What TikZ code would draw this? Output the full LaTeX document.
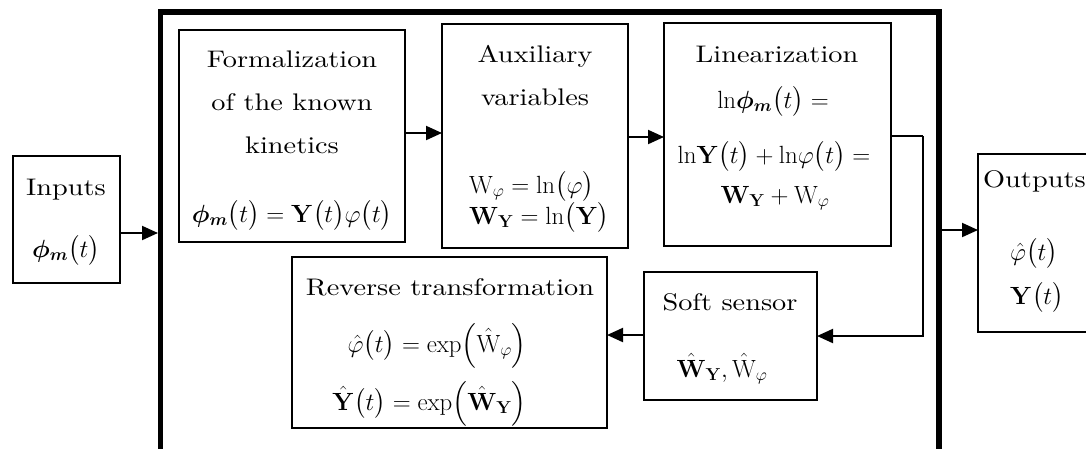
\documentclass[tikz,border=0pt]{standalone}
\usepackage{amsmath}
\usepackage{bm}
\usepackage[no-math]{fontspec}
\setmainfont{lmroman10-regular.otf}[FakeStretch=1.18]
\usetikzlibrary{arrows.meta}
\begin{document}
\begin{tikzpicture}[x=1pt,y=-1pt,
  blk/.style={draw,line width=2pt,rectangle,inner sep=0pt,outer sep=0pt},
  txt/.style={anchor=base,inner sep=0pt,font=\fontsize{24}{29}\selectfont},
  mth/.style={anchor=base,inner sep=0pt,font=\fontsize{25}{30}\selectfont},
  arr/.style={line width=2pt,-{Triangle[length=16pt,width=14pt]}},
  lnk/.style={line width=2pt}]
\useasboundingbox (0,0) rectangle (1086,448);
% outer frame (open at the bottom edge of the picture)
\draw[line width=5.5pt] (160.5,460) -- (160.5,12) -- (939,12) -- (939,460);
\coordinate (fl) at (158,233);
\coordinate (fr) at (941.5,230);
\coordinate (bend) at (923,136);
% boxes
\node[blk,minimum width=107pt,minimum height=127pt] (inputs) at (66.5,219.5) {};
\node[blk,minimum width=226pt,minimum height=212pt] (form) at (292,136) {};
\node[blk,minimum width=186pt,minimum height=224pt] (aux) at (535,136) {};
\node[blk,minimum width=227pt,minimum height=223pt] (lin) at (777.5,134.5) {};
\node[blk,minimum width=173pt,minimum height=128pt] (soft) at (730.5,336) {};
\node[blk,minimum width=315pt,minimum height=171pt] (rev) at (449.5,342.5) {};
\node[blk,minimum width=140pt,minimum height=178pt] (outputs) at (1048,243) {};
% texts
\node[txt] (tin1) at (66,195) {Inputs};
\node[mth] (tin2) at (66,257) {$\bm{\phi}_{\bm{m}}\bigl(t\bigr)$};
\node[txt] (tf1) at (292,67) {Formalization};
\node[txt] (tf2) at (292,110) {of the known};
\node[txt] (tf3) at (292,153) {kinetics};
\node[mth] (tf4) at (292,222) {$\bm{\phi}_{\bm{m}}\bigl(t\bigr)=\mathbf{Y}\bigl(t\bigr)\varphi\bigl(t\bigr)$};
\node[txt] (ta1) at (535,62) {Auxiliary};
\node[txt] (ta2) at (535,105) {variables};
\node[mth,anchor=base west] (ta3) at (469,193) {$\mathrm{W}_{\varphi}=\ln\bigl(\varphi\bigr)$};
\node[mth,anchor=base west] (ta4) at (469,224) {$\mathbf{W}_{\mathbf{Y}}=\ln\bigl(\mathbf{Y}\bigr)$};
\node[txt] (tl1) at (777,62) {Linearization};
\node[mth] (tl2) at (773,108) {$\mathrm{ln}\bm{\phi}_{\bm{m}}\bigl(t\bigr)=$};
\node[mth] (tl3) at (774,163) {$\mathrm{ln}\mathbf{Y}\bigl(t\bigr)+\mathrm{ln}\varphi\bigl(t\bigr)=$};
\node[mth] (tl4) at (775,203) {$\mathbf{W}_{\mathbf{Y}}+\mathrm{W}_{\varphi}$};
\node[txt] (ts1) at (730,310) {Soft sensor};
\node[mth] (ts2) at (722,377) {$\hat{\mathbf{W}}_{\mathbf{Y}},\hat{\mathrm{W}}_{\varphi}$};
\node[txt] (tr1) at (450,295) {Reverse transformation};
\node[mth,anchor=base east] (tr2) at (527,352) {$\hat{\varphi}\bigl(t\bigr)=\exp\Bigl(\hat{\mathrm{W}}_{\varphi}\Bigr)$};
\node[mth,anchor=base east] (tr3) at (527,410) {$\hat{\mathbf{Y}}\bigl(t\bigr)=\exp\Bigl(\hat{\mathbf{W}}_{\mathbf{Y}}\Bigr)$};
\node[txt,anchor=base west] (to1) at (983,187) {Outputs};
\node[mth,anchor=base west] (to2) at (1010,260) {$\hat{\varphi}\bigl(t\bigr)$};
\node[mth,anchor=base west] (to3) at (1010,304) {$\mathbf{Y}\bigl(t\bigr)$};
% connectors
\draw[arr] (inputs.east |- fl) -- (fl);
\draw[arr] (form.east |- 0,133) -- (aux.west |- 0,133);
\draw[arr] (aux.east |- 0,137) -- (lin.west |- 0,137);
\draw[lnk] (lin.east |- bend) -- (bend);
\draw[arr] (bend) |- (soft.east);
\draw[arr] (soft.west |- 0,335) -- (rev.east |- 0,335);
\draw[arr] (fr) -- (outputs.west |- fr);
\end{tikzpicture}
\end{document}
